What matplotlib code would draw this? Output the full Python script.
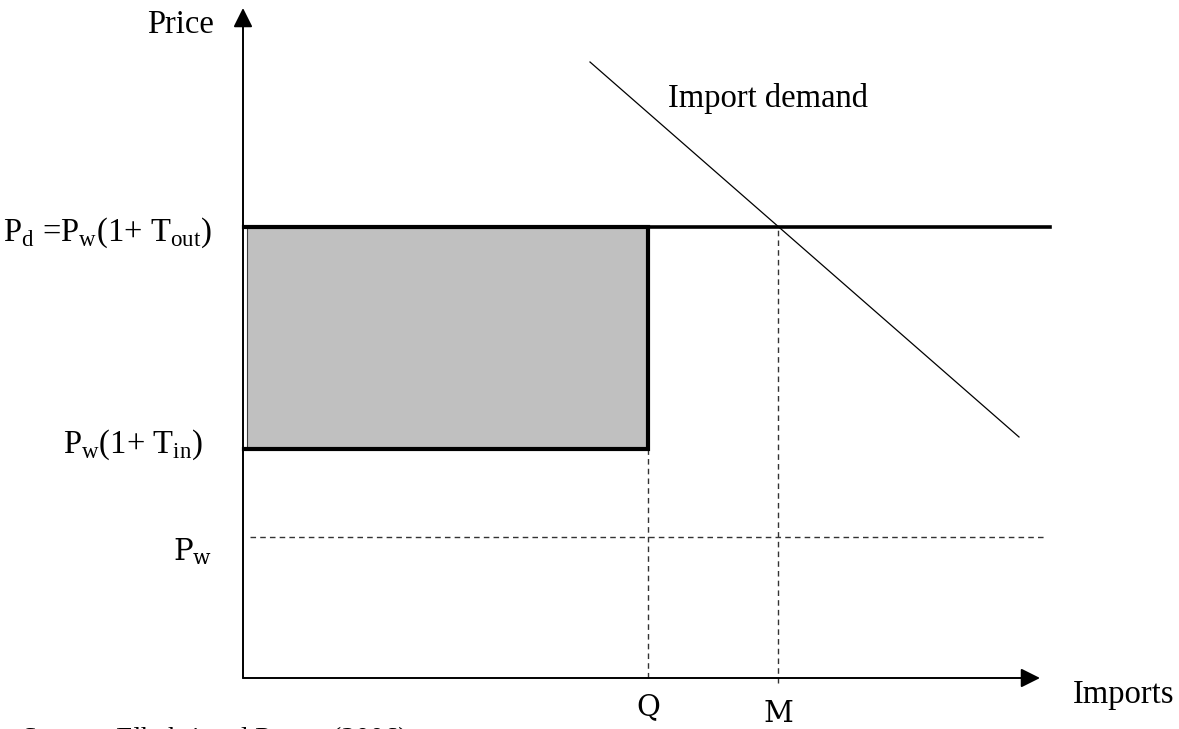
import matplotlib.pyplot as plt
from matplotlib.patches import Rectangle

# --- data (chart units, origin at the axes corner) ---
q_imports = 4.05          # Q
m_imports = 5.35          # M
p_world = 1.41            # Pw
p_in = 2.29               # Pw (1+ Tin)
p_out = 4.51              # Pd = Pw (1+ Tout)
demand_x = [3.47, 7.76]   # import demand line
demand_y = [6.16, 2.41]
x_axis_end = 7.97
y_axis_end = 6.70
supply_end = 8.07
pw_line = [0.07, 8.02]

serif = "Liberation Serif"
math_serif = "DejaVu Serif"
fs = 23.5

fig = plt.figure(figsize=(11.79, 7.29), dpi=100)
ax = fig.add_axes([0, 0, 1, 1])
ax.set_xlim(-2.43, 9.36)
ax.set_ylim(-0.51, 6.78)
ax.axis("off")

# axes with arrows
arrow = dict(arrowstyle="-|>", lw=1.4, color="black", mutation_scale=29,
             shrinkA=0, shrinkB=0)
ax.annotate("", xy=(0, y_axis_end), xytext=(0, 0), arrowprops=arrow)
ax.annotate("", xy=(x_axis_end, 0), xytext=(0, 0), arrowprops=arrow)

# shaded rent box
ax.add_patch(Rectangle((0.04, p_in), q_imports - 0.04, p_out - p_in,
                       facecolor="#c0c0c0", edgecolor="#404040", lw=0.8, zorder=2))
ax.plot([0.01, q_imports, q_imports, 0.01],
        [p_out, p_out, p_in, p_in], color="black", lw=3, zorder=3,
        solid_joinstyle="miter")
ax.plot([q_imports, supply_end], [p_out, p_out], color="black", lw=2.6, zorder=3)

# dashed guides
dash = dict(color="#333333", lw=1, dashes=(4, 3), zorder=1)
ax.plot(pw_line, [p_world, p_world], **dash)
ax.plot([q_imports, q_imports], [0, p_in], **dash)
ax.plot([m_imports, m_imports], [-0.05, p_out], **dash)

# import demand
ax.plot(demand_x, demand_y, color="black", lw=0.9)

# labels
ax.text(-0.96, 6.45, "Price", fontsize=fs, family=serif)
ax.text(4.25, 5.71, "Import demand", fontsize=fs, family=serif)
ax.text(8.30, -0.25, "Imports", fontsize=fs, family=serif)
ax.text(q_imports, -0.37, "Q", fontsize=21, family=math_serif, ha="center")
ax.text(m_imports, -0.44, "M", fontsize=21, family=math_serif, ha="center")
ax.text(-0.31, 1.18, r"P$_\mathregular{w}$", fontsize=21, family=math_serif,
        ha="right")
ax.text(-0.40, 2.25, r"P$_\mathregular{w}$(1+ T$_\mathregular{in}$)",
        fontsize=fs, family=serif, ha="right")
ax.text(-0.31, 4.37, r"P$_\mathregular{d}$ =P$_\mathregular{w}$(1+ T$_\mathregular{out}$)",
        fontsize=fs, family=serif, ha="right")
ax.text(-2.21, -0.49, "Source: Elbehri and Peters (2006)", fontsize=20.5,
        family=serif, va="top")

fig.savefig("out.png", dpi=100)
